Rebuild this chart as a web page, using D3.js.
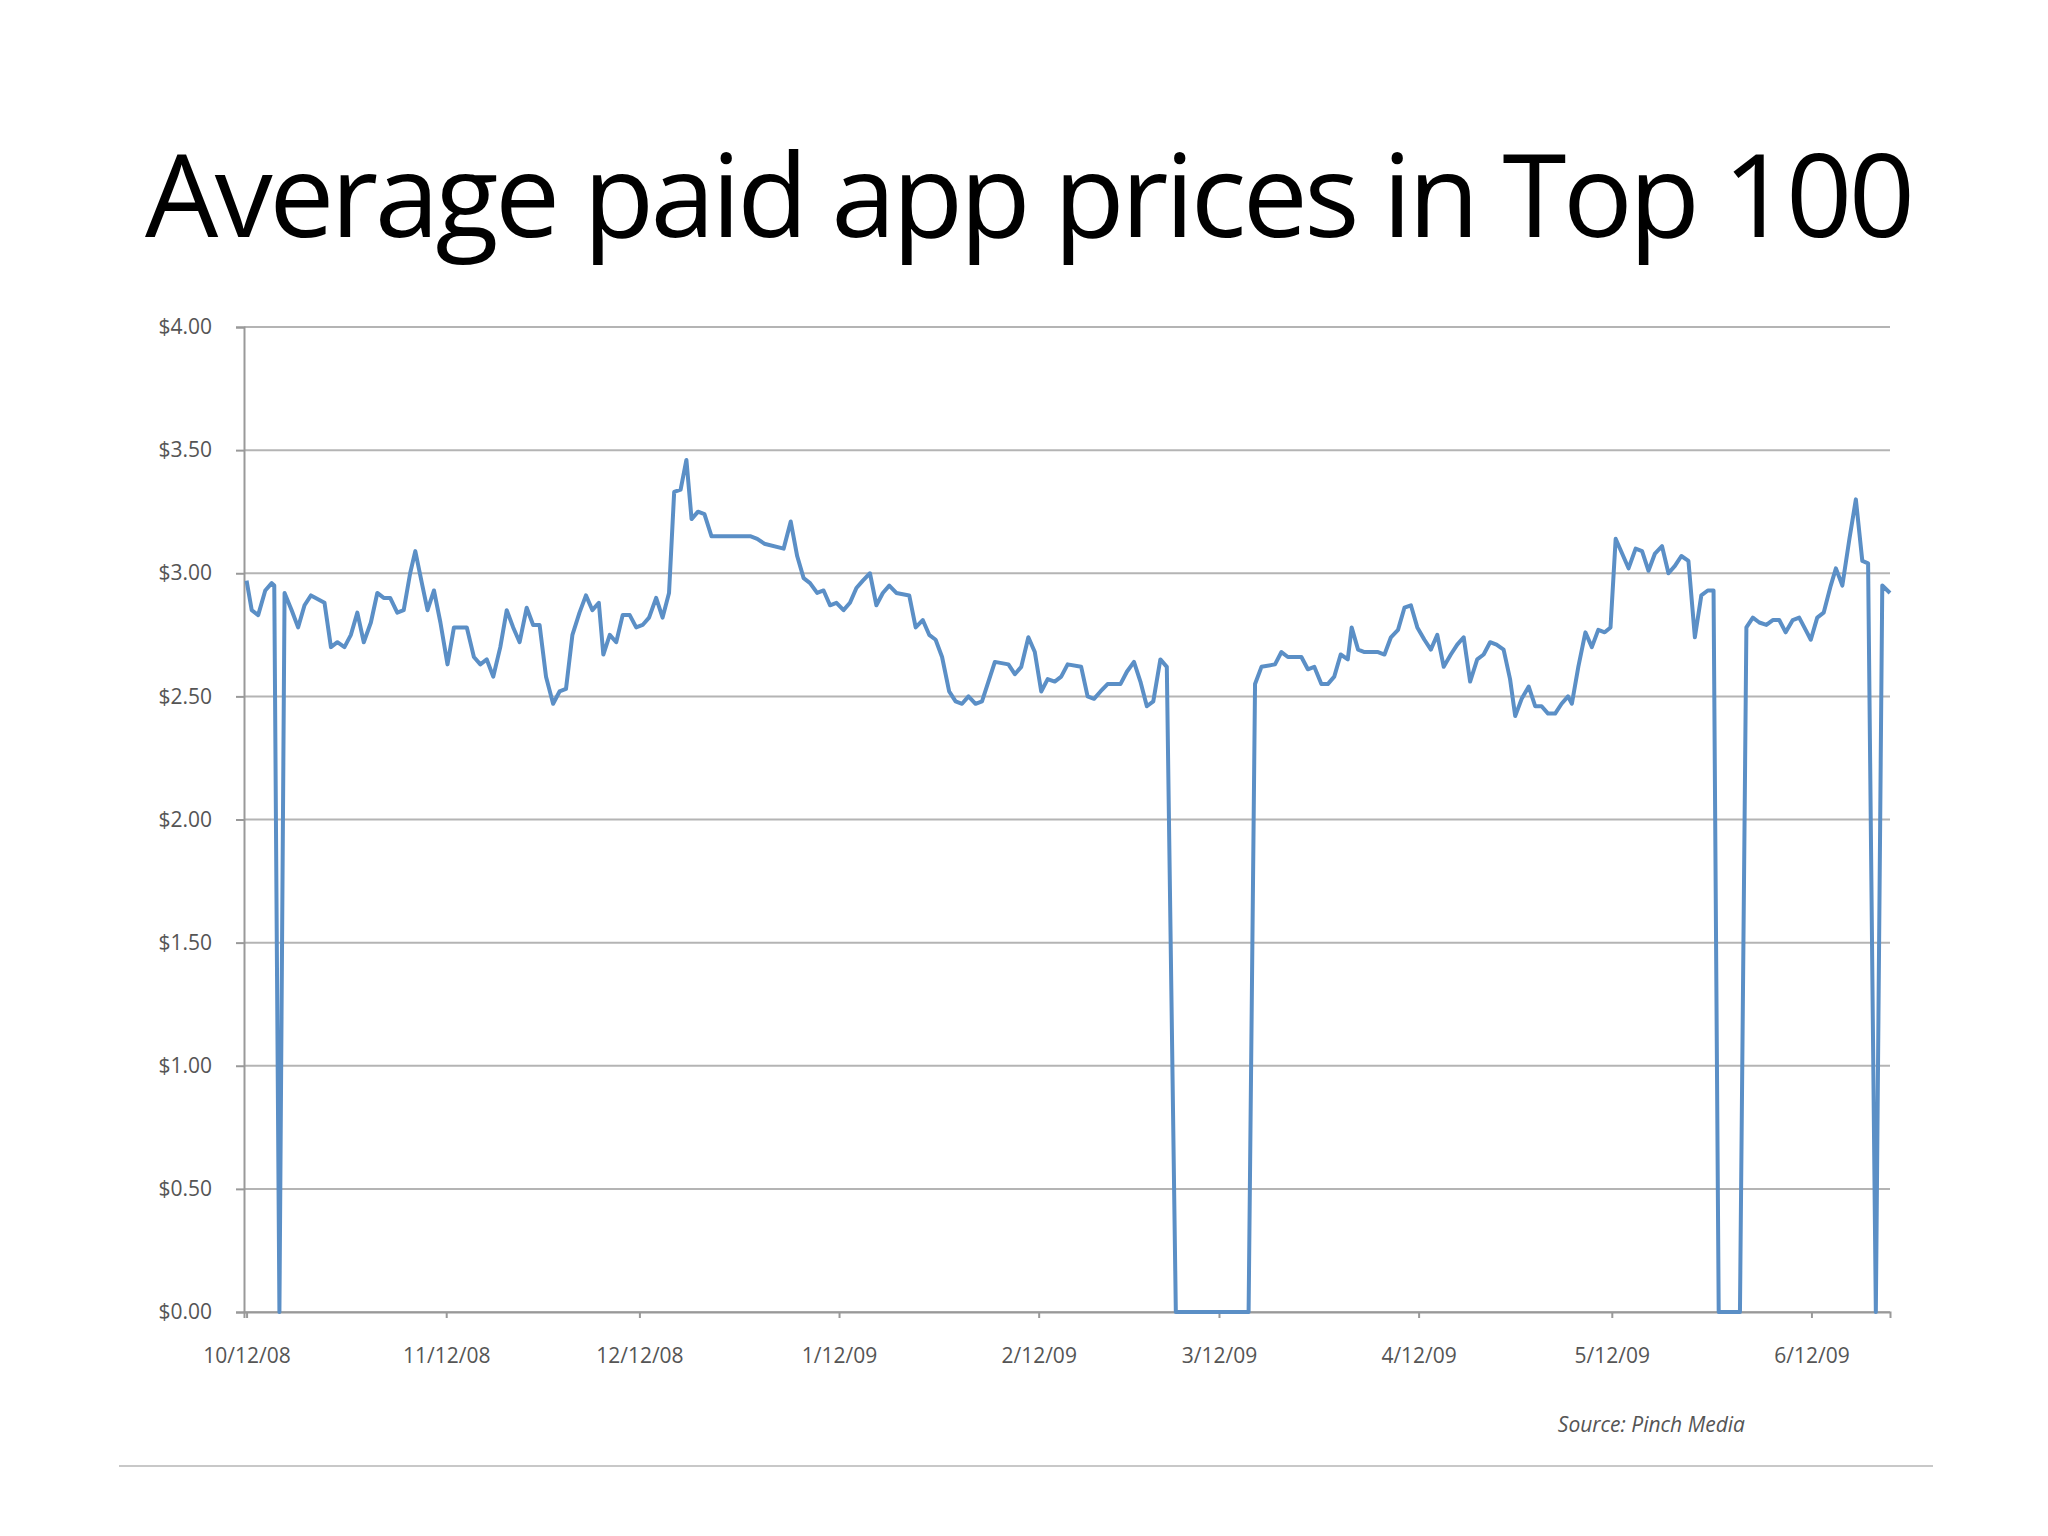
<!DOCTYPE html>
<html lang="en">
<head>
<meta charset="UTF-8">
<title>Average paid app prices in Top 100</title>
<script src="https://d3js.org/d3.v7.min.js"></script>
<style>
  body { margin: 0; background: #fff; }
  .tick text { fill: #555; font-family: "Open Sans", sans-serif; font-size: 21px; }
</style>
</head>
<body>
<svg width="2048" height="1536"></svg>
<script>
// days since 10/12/08 and average price
const days = [0,0.8,1.8,2.9,3.9,4.3,5.1,5.9,7.0,8.0,9.0,10.0,12.1,13.1,14.1,15.2,16.2,17.2,18.2,19.3,20.3,21.3,22.3,23.4,24.4,25.4,26.2,27.3,28.1,29.1,30.1,31.2,32.2,34.2,35.3,36.3,37.3,38.3,39.4,40.4,41.4,42.4,43.5,44.5,45.5,46.5,47.6,48.6,49.6,50.6,51.7,52.7,53.7,54.7,55.4,56.4,57.4,58.4,59.5,60.5,61.5,62.5,63.6,64.6,65.6,66.4,67.4,68.3,69.1,70.1,71.1,72.2,78.3,79.3,80.4,83.4,84.5,85.5,86.5,87.5,88.6,89.6,90.6,91.6,92.7,93.7,94.7,95.7,96.8,97.8,98.8,99.8,100.9,102.9,103.9,105.0,106.0,107.0,108.0,109.1,110.1,111.1,112.1,113.2,114.2,115.2,116.2,118.3,119.3,120.3,121.4,122.4,123.4,124.4,125.5,126.5,127.5,129.6,130.6,131.6,132.6,133.7,135.7,136.7,137.8,138.8,139.8,140.8,141.9,142.9,144.3,155.6,156.6,157.6,159.7,160.7,161.7,163.8,164.8,165.8,166.9,167.9,168.9,169.9,171.0,171.6,172.6,173.6,175.7,176.7,177.7,178.8,179.8,180.8,181.8,182.9,183.9,184.9,185.9,187.0,188.0,189.0,190.0,191.1,192.1,193.1,194.1,195.2,196.2,197.0,198.0,199.1,200.1,201.1,202.1,203.2,204.2,205.2,205.8,206.8,207.9,208.9,209.9,210.9,211.8,212.6,213.6,214.6,215.7,216.7,217.7,218.7,219.8,220.8,221.8,222.8,223.9,224.9,225.9,226.9,227.8,228.6,231.9,232.9,233.9,234.9,236.0,237.0,238.0,239.0,240.1,241.1,242.1,242.9,243.9,244.9,246.0,246.8,247.8,248.9,249.9,250.9,251.8,253.0,254.0,255.2];
const prices = [2.97,2.85,2.83,2.93,2.96,2.95,0,2.92,2.85,2.78,2.87,2.91,2.88,2.70,2.72,2.70,2.75,2.84,2.72,2.80,2.92,2.90,2.90,2.84,2.85,3.00,3.09,2.95,2.85,2.93,2.80,2.63,2.78,2.78,2.66,2.63,2.65,2.58,2.70,2.85,2.78,2.72,2.86,2.79,2.79,2.58,2.47,2.52,2.53,2.75,2.84,2.91,2.85,2.88,2.67,2.75,2.72,2.83,2.83,2.78,2.79,2.82,2.90,2.82,2.92,3.33,3.34,3.46,3.22,3.25,3.24,3.15,3.15,3.14,3.12,3.10,3.21,3.07,2.98,2.96,2.92,2.93,2.87,2.88,2.85,2.88,2.94,2.97,3.00,2.87,2.92,2.95,2.92,2.91,2.78,2.81,2.75,2.73,2.66,2.52,2.48,2.47,2.50,2.47,2.48,2.56,2.64,2.63,2.59,2.62,2.74,2.68,2.52,2.57,2.56,2.58,2.63,2.62,2.50,2.49,2.52,2.55,2.55,2.60,2.64,2.56,2.46,2.48,2.65,2.62,0,0,2.55,2.62,2.63,2.68,2.66,2.66,2.61,2.62,2.55,2.55,2.58,2.67,2.65,2.78,2.69,2.68,2.68,2.67,2.74,2.77,2.86,2.87,2.78,2.73,2.69,2.75,2.62,2.67,2.71,2.74,2.56,2.65,2.67,2.72,2.71,2.69,2.57,2.42,2.49,2.54,2.46,2.46,2.43,2.43,2.47,2.50,2.47,2.62,2.76,2.70,2.77,2.76,2.78,3.14,3.08,3.02,3.10,3.09,3.01,3.08,3.11,3.00,3.03,3.07,3.05,2.74,2.91,2.93,2.93,0,0,2.78,2.82,2.80,2.79,2.81,2.81,2.76,2.81,2.82,2.77,2.73,2.82,2.84,2.95,3.02,2.95,3.14,3.30,3.05,3.04,0,2.95,2.92];
const tickDays = [0,31,61,92,123,151,182,212,243];
const tickLabels = ["10/12/08","11/12/08","12/12/08","1/12/09","2/12/09","3/12/09","4/12/09","5/12/09","6/12/09"];
const yTicks = [0,0.5,1,1.5,2,2.5,3,3.5,4];

const svg = d3.select("svg");
const margin = {top: 327, right: 158, bottom: 224, left: 244};
const width = 2048 - margin.left - margin.right,
      height = 1536 - margin.top - margin.bottom;

svg.append("text")
  .attr("x", 145).attr("y", 237)
  .attr("font-family", "Open Sans, sans-serif")
  .attr("font-size", 116)
  .attr("textLength", 1770)
  .attr("fill", "#000")
  .text("Average paid app prices in Top 100");

const x = d3.scaleLinear().domain([-0.4, 255.2]).range([0, width]);
const y = d3.scaleLinear().domain([0, 4]).range([height, 0]);

const g = svg.append("g").attr("transform", `translate(${margin.left},${margin.top})`);

g.selectAll(".grid").data(yTicks).enter().append("line")
  .attr("x1", 0).attr("x2", width)
  .attr("y1", d => y(d)).attr("y2", d => y(d))
  .attr("stroke", "#b4b4b4").attr("stroke-width", 2);

g.append("g").attr("transform", `translate(0,${height})`)
  .call(d3.axisBottom(x).tickValues(tickDays).tickFormat((d, i) => tickLabels[i]).tickSize(6).tickPadding(30))
  .call(a => a.select(".domain").attr("stroke", "#999").attr("stroke-width", 2))
  .call(a => a.selectAll(".tick line").attr("stroke", "#999").attr("stroke-width", 2));

g.append("g")
  .call(d3.axisLeft(y).tickValues(yTicks).tickFormat(d3.format("$.2f")).tickSize(8).tickPadding(24))
  .call(a => a.select(".domain").attr("stroke", "#999").attr("stroke-width", 2))
  .call(a => a.selectAll(".tick line").attr("stroke", "#999").attr("stroke-width", 2));

const line = d3.line().x((d, i) => x(days[i])).y(d => y(d));
g.append("path").datum(prices)
  .attr("d", line)
  .attr("fill", "none")
  .attr("stroke", "#5b8fc6")
  .attr("stroke-width", 4)
  .attr("stroke-linejoin", "round");

svg.append("text")
  .attr("x", 1745).attr("y", 1432)
  .attr("text-anchor", "end")
  .attr("font-family", "Open Sans, sans-serif")
  .attr("font-style", "italic")
  .attr("font-size", 21)
  .attr("fill", "#555")
  .text("Source: Pinch Media");

svg.append("line")
  .attr("x1", 119).attr("x2", 1933).attr("y1", 1466).attr("y2", 1466)
  .attr("stroke", "#c8c8c8").attr("stroke-width", 2);
</script>
</body>
</html>
